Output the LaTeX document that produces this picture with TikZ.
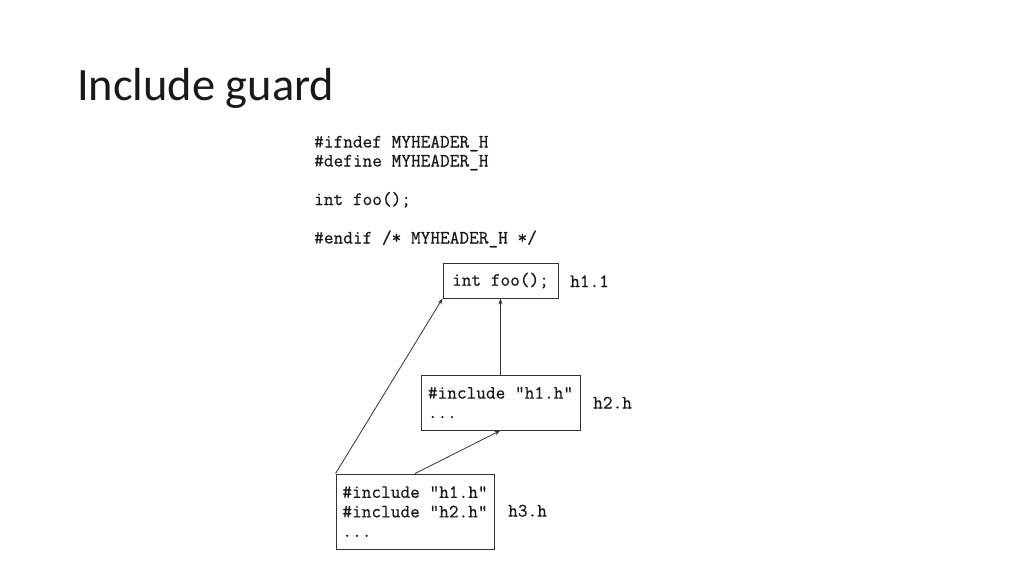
\documentclass[tikz,border=0pt]{standalone}
\usepackage{fontspec}
\newfontfamily\titlefont{Carlito}
\newfontfamily\codefont[FakeBold=0.5]{Latin Modern Mono}
\usetikzlibrary{arrows.meta}
\begin{document}
\begin{tikzpicture}[x=1pt,y=-1pt,
  code/.style={font=\fontsize{18.8}{19.5}\selectfont\codefont, text=black!90, inner sep=0pt},
  codebox/.style={code, draw=black!80, line width=0.9pt, align=left},
  lbl/.style={code, anchor=base west},
  arr/.style={draw=black!80, line width=0.8pt, -{Stealth[length=6pt,width=4pt]}}
]
\useasboundingbox[fill=white] (0,0) rectangle (1024,574);
\node[anchor=base west, inner sep=0pt, text=black!90, font=\titlefont\fontsize{46.4}{50}\selectfont] (title) at (77,100) {Include guard};

\node[lbl] (c1) at (314,147.5) {\#ifndef MYHEADER\_H};
\node[lbl] (c2) at (314,166.5) {\#define MYHEADER\_H};
\node[lbl] (c3) at (314,205) {int foo();};
\node[lbl] (c4) at (314,243.5) {\#endif /* MYHEADER\_H */};

\node[codebox, minimum width=115pt, minimum height=35pt] (h1) at (500.5,280.5) {int foo();};
\node[codebox, minimum width=159pt, minimum height=55pt] (h2) at (500.5,402.5) {\#include "h1.h"\\...};
\node[codebox, minimum width=158pt, minimum height=75pt] (h3) at (415,511.5) {\#include "h1.h"\\\#include "h2.h"\\...};

\node[lbl] (l1) at (570,287) {h1.1};
\node[lbl] (l2) at (593,408.5) {h2.h};
\node[lbl] (l3) at (508,516.5) {h3.h};

\draw[arr] (h3.north west) -- (h1.south west);
\draw[arr] (h3.north) -- (h2.south);
\draw[arr] (h2.north) -- (h1.south);
\end{tikzpicture}
\end{document}
